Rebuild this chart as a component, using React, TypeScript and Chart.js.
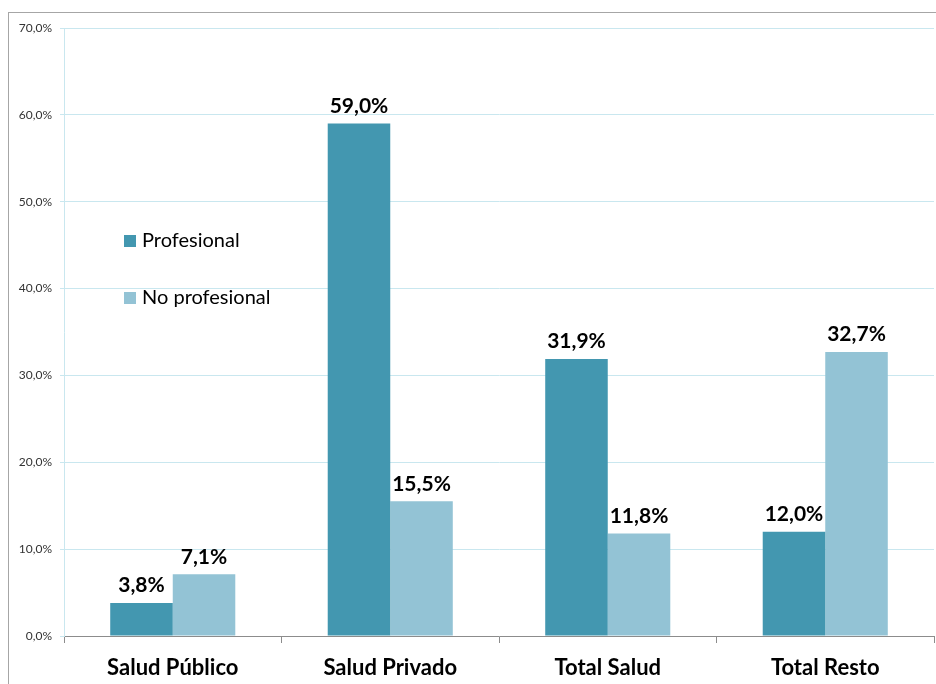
import React, { useEffect, useRef } from "react";
import { Chart, registerables } from "chart.js";
Chart.register(...registerables);

const categories = ["Salud Público", "Salud Privado", "Total Salud", "Total Resto"];
const profesional = [3.8, 59.0, 31.9, 12.0];
const noProfesional = [7.1, 15.5, 11.8, 32.7];
const seriesNames = ["Profesional", "No profesional"];
const colors = ["#4397B0", "#93C3D5"];
const FONT = "Lato, 'Open Sans', sans-serif";

const fmt = (v: number) => v.toFixed(1).replace(".", ",") + "%";

const framePlugin = {
  id: "frame",
  beforeDraw(chart: any) {
    const ctx = chart.ctx;
    ctx.save();
    ctx.fillStyle = "#ffffff";
    ctx.fillRect(0, 0, chart.width, chart.height);
    ctx.strokeStyle = "#a6a6a6";
    ctx.lineWidth = 1;
    ctx.strokeRect(8.5, 12.5, chart.width + 10, chart.height + 10);
    ctx.restore();
  },
};

const labelPlugin = {
  id: "labels",
  afterDatasetsDraw(chart: any) {
    const ctx = chart.ctx;
    ctx.save();
    ctx.font = `bold 21px ${FONT}`;
    ctx.fillStyle = "#000";
    ctx.textAlign = "center";
    ctx.textBaseline = "bottom";
    chart.data.datasets.forEach((ds: any, i: number) => {
      const meta = chart.getDatasetMeta(i);
      meta.data.forEach((bar: any, j: number) => {
        ctx.fillText(fmt(ds.data[j]), bar.x, bar.y - 7);
      });
    });
    // legend
    const ca = chart.chartArea;
    ctx.font = `20px ${FONT}`;
    ctx.textAlign = "left";
    ctx.textBaseline = "middle";
    seriesNames.forEach((n, i) => {
      const y = 241 + i * 57;
      const x = ca.left + 60;
      ctx.fillStyle = colors[i];
      ctx.fillRect(x, y - 6, 12, 12);
      ctx.fillStyle = "#000";
      ctx.fillText(n, x + 18, y);
    });
    ctx.restore();
  },
};

export default function App() {
  const ref = useRef<HTMLCanvasElement>(null);
  useEffect(() => {
    if (!ref.current) return;
    const chart = new Chart(ref.current, {
      type: "bar",
      data: {
        labels: categories,
        datasets: [
          { label: seriesNames[0], data: profesional, backgroundColor: colors[0], borderWidth: 0 },
          { label: seriesNames[1], data: noProfesional, backgroundColor: colors[1], borderWidth: 0 },
        ],
      },
      options: {
        animation: false,
        responsive: false,
        maintainAspectRatio: false,
        layout: { padding: { left: 0, right: 2, top: 28, bottom: 0 } },
        plugins: { legend: { display: false }, tooltip: { enabled: false } },
        datasets: { bar: { categoryPercentage: 0.575, barPercentage: 1 } },
        scales: {
          x: {
            grid: { offset: true, drawOnChartArea: false, tickLength: 7, color: "#8c8c8c" },
            border: { color: "#8c8c8c" },
            ticks: { color: "#000", font: { family: FONT, size: 22, weight: "bold" }, padding: 12 },
            afterFit(s: any) { s.height = 48; },
          },
          y: {
            min: 0,
            max: 70,
            ticks: {
              stepSize: 10,
              color: "#333",
              font: { family: FONT, size: 12 },
              padding: 8,
              callback: (v: any) => fmt(Number(v)),
            },
            grid: { color: "#C9E7EF", tickLength: 4 },
            border: { color: "#C9E7EF" },
            afterFit(s: any) { s.width = 64; },
          },
        },
      },
      plugins: [framePlugin, labelPlugin],
    } as any);
    return () => chart.destroy();
  }, []);
  return (
    <div style={{ position: "absolute", left: 0, top: 0, width: 936, height: 684 }}>
      <canvas ref={ref} width={936} height={684} style={{ display: "block" }} />
    </div>
  );
}
